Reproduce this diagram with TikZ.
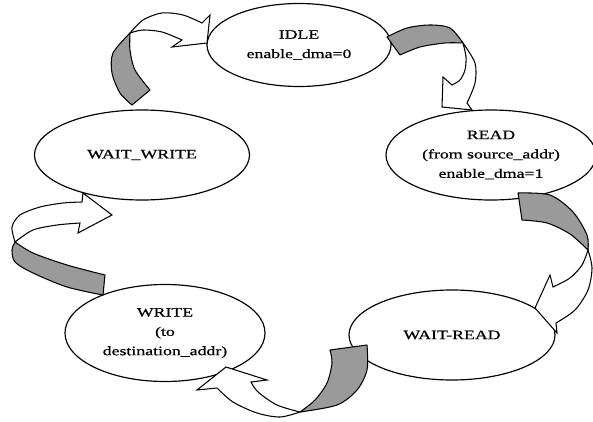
\documentclass[tikz,border=0pt]{standalone}
\usepackage{fontspec}
\setmainfont{Liberation Serif}[FakeStretch=1.38, FakeBold=0.6]
\usetikzlibrary{shapes.geometric}
\definecolor{backGray}{HTML}{9A9A9A}
\tikzset{
  statenode/.style={ellipse, draw, line width=1pt, fill=white, align=center, inner sep=0pt, font=\fontsize{11}{16.5}\selectfont},
  backface/.style={draw, fill=backGray, line width=0.9pt, line join=round},
  frontface/.style={draw, fill=white, line width=0.9pt, line join=miter},
}

\begin{document}
\begin{tikzpicture}[x=0.03cm, y=-0.03cm]
    \useasboundingbox (0,0) rectangle (593,421);
    \clip (0,0) rectangle (593,421);
    \node[statenode, minimum width=5.52cm, minimum height=2.49cm] (idle) at (299,45) {IDLE\\enable\_dma=0};
    \node[statenode, minimum width=6.3cm, minimum height=2.7cm] (read) at (491,155) {READ\\(from source\_addr)\\enable\_dma=1};
    \node[statenode, minimum width=6.18cm, minimum height=2.7cm] (waitread) at (452,335) {WAIT-READ};
    \node[statenode, minimum width=6cm, minimum height=2.91cm] (write) at (165,333) {WRITE\\(to\\destination\_addr)};
    \node[statenode, minimum width=6.45cm, minimum height=2.7cm] (waitwrite) at (142,155) {WAIT\_WRITE};

    % waitwrite -> idle
    \path[backface] plot[smooth] coordinates {(130,33) (113,53) (112,73) (120,93) (132,105)}
      -- plot[smooth] coordinates {(150,90) (135,70) (130,50) (130,33)} -- cycle;
    \path[frontface] plot[smooth] coordinates {(130,33) (143,20) (162,13) (183,15) (202,23)}
      -- (210,15) -- (207,43) -- (172,47)
      -- plot[smooth] coordinates {(182,40) (162,32) (143,30) (130,33)} -- cycle;

    % idle -> read
    \path[backface] plot[smooth] coordinates {(387,37) (407,28) (430,25) (450,28) (463,43)}
      -- plot[smooth] coordinates {(463,43) (445,43) (420,47) (400,55)} -- cycle;
    \path[frontface] plot[smooth] coordinates {(463,43) (475,63) (475,83) (467,103)}
      -- (472,110) -- (442,107) -- (443,77)
      -- plot[smooth] coordinates {(452,85) (460,80) (465,70) (466,57) (463,43)} -- cycle;

    % read -> waitread
    \path[backface] plot[smooth] coordinates {(518,193) (550,195) (573,212) (587,235) (588,250)}
      -- plot[smooth] coordinates {(588,250) (570,234) (547,223) (522,220)} -- cycle;
    \path[frontface] plot[smooth] coordinates {(588,250) (592,268) (588,290) (575,310) (556,323)}
      -- (557,333) -- (535,308) -- (550,275)
      -- plot[smooth] coordinates {(553,287) (570,278) (582,265) (588,250)} -- cycle;

    % waitread -> write
    \path[backface] plot[smooth] coordinates {(330,350) (332,363) (327,383) (315,400) (300,412)}
      -- plot[smooth] coordinates {(300,412) (337,405) (357,390) (367,370) (367,345)} -- cycle;
    \path[frontface] plot[smooth] coordinates {(300,412) (280,417) (257,413) (233,402) (217,388)}
      -- (197,390) -- (226,367) -- (267,380)
      -- plot[smooth] coordinates {(251,382) (258,392) (277,405) (300,412)} -- cycle;

    % write -> waitwrite
    \path[backface] plot[smooth] coordinates {(105,275) (67,265) (33,253) (15,242)}
      -- plot[smooth] coordinates {(15,242) (12,250) (15,262) (33,273) (67,287) (103,295)} -- cycle;
    \path[frontface] plot[smooth] coordinates {(15,242) (12,227) (20,215) (40,207) (63,203) (82,202)}
      -- (83,193) -- (112,215) -- (78,233)
      -- plot[smooth] coordinates {(80,223) (57,225) (33,230) (15,242)} -- cycle;
\end{tikzpicture}
\end{document}
